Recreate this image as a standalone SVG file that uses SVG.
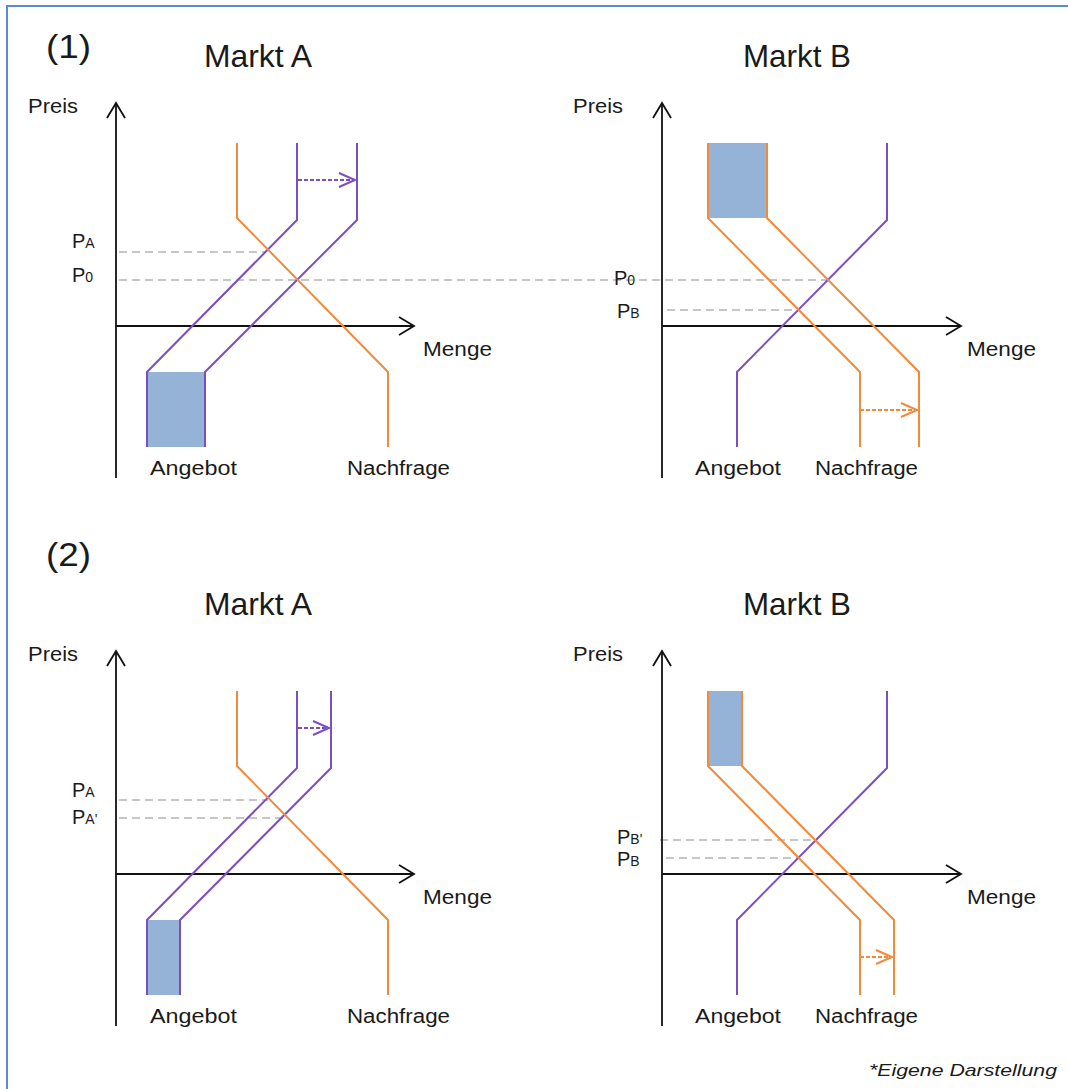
<svg xmlns="http://www.w3.org/2000/svg" width="1068" height="1089" viewBox="0 0 1068 1089">
  <style>
    text { font-family: "Liberation Sans", Arial, sans-serif; fill: #1a1a1a; }
    .title { font-size: 32px; }
    .num { font-size: 34px; }
    .lbl { font-size: 20px; }
    .p { font-size: 20px; }
    .sub { font-size: 14px; }
    .axis { stroke: #111; stroke-width: 1.8; fill: none; }
    .sup { stroke: #7d4ec2; stroke-width: 2; fill: none; }
    .dem { stroke: #f28a3c; stroke-width: 2; fill: none; }
    .fill { fill: #95b3d7; stroke: none; }
    .guide { stroke: #b4b4b4; stroke-width: 1.5; stroke-dasharray: 8 5; fill: none; }
    .shiftS { stroke: #7d4ec2; stroke-width: 2; stroke-dasharray: 4 2; fill: none; }
    .shiftD { stroke: #f28a3c; stroke-width: 2; stroke-dasharray: 4 2; fill: none; }
  </style>
  <defs>
    <marker id="axisHead" markerUnits="userSpaceOnUse" markerWidth="20" markerHeight="20" viewBox="-16 -10 18 20" refX="0" refY="0" orient="auto">
      <path d="M-15,-9 L0,0 L-15,9" fill="none" stroke="#111" stroke-width="1.8"/>
    </marker>
    <marker id="headS" markerUnits="userSpaceOnUse" markerWidth="20" markerHeight="20" viewBox="-16 -10 18 20" refX="0" refY="0" orient="auto">
      <path d="M-16,-7 L0,0 L-16,7" fill="none" stroke="#7d4ec2" stroke-width="2"/>
    </marker>
    <marker id="headD" markerUnits="userSpaceOnUse" markerWidth="20" markerHeight="20" viewBox="-16 -10 18 20" refX="0" refY="0" orient="auto">
      <path d="M-16,-7 L0,0 L-16,7" fill="none" stroke="#f28a3c" stroke-width="2"/>
    </marker>
  </defs>

  <rect width="1068" height="1089" fill="#ffffff"/>
  <!-- frame -->
  <path d="M7,1089 L7,6 L1068,6" fill="none" stroke="#5b8bd0" stroke-width="2"/>

  <text class="num" x="46" y="58" textLength="45" lengthAdjust="spacingAndGlyphs">(1)</text>
  <text class="num" x="46" y="566" textLength="45" lengthAdjust="spacingAndGlyphs">(2)</text>

  <!-- (1) Markt A -->
  <g id="p1-markt-a">
    <text class="title" x="204" y="67" textLength="108" lengthAdjust="spacingAndGlyphs">Markt A</text>
    <rect class="fill" x="147" y="372" width="58" height="75"/>
    <path class="guide" d="M119,252 H266"/>
    <path class="guide" d="M119,280 H830"/>
    <path class="axis" d="M116,478 V103" marker-end="url(#axisHead)"/>
    <path class="axis" d="M116,326 H414" marker-end="url(#axisHead)"/>
    <path class="sup" d="M147,447 V372 L297,220 V143"/>
    <path class="sup" d="M205,447 V372 L357,220 V143"/>
    <path class="dem" d="M237,143 V218 L388,372 V447"/>
    <path class="shiftS" d="M298,180 H355" marker-end="url(#headS)"/>
    <text class="lbl" x="28" y="113" textLength="50" lengthAdjust="spacingAndGlyphs">Preis</text>
    <text class="lbl" x="423" y="356" textLength="69" lengthAdjust="spacingAndGlyphs">Menge</text>
    <text class="lbl" x="150" y="475" textLength="87" lengthAdjust="spacingAndGlyphs">Angebot</text>
    <text class="lbl" x="347" y="475" textLength="103" lengthAdjust="spacingAndGlyphs">Nachfrage</text>
    <text class="p" x="72" y="248">P<tspan class="sub">A</tspan></text>
    <text class="p" x="72" y="282">P<tspan class="sub">0</tspan></text>
  </g>

  <!-- (1) Markt B -->
  <g id="p1-markt-b">
    <text class="title" x="743" y="67" textLength="108" lengthAdjust="spacingAndGlyphs">Markt B</text>
    <rect class="fill" x="708" y="143" width="59" height="75"/>
    <path class="guide" d="M667,310 H799"/>
    <path class="axis" d="M662,478 V103" marker-end="url(#axisHead)"/>
    <path class="axis" d="M662,326 H961" marker-end="url(#axisHead)"/>
    <path class="sup" d="M737,447 V372 L887,220 V143"/>
    <path class="dem" d="M708,143 V218 L860,372 V447"/>
    <path class="dem" d="M767,143 V218 L919,372 V447"/>
    <path class="shiftD" d="M860,410 H917" marker-end="url(#headD)"/>
    <text class="lbl" x="573" y="113" textLength="50" lengthAdjust="spacingAndGlyphs">Preis</text>
    <text class="lbl" x="967" y="356" textLength="69" lengthAdjust="spacingAndGlyphs">Menge</text>
    <text class="lbl" x="695" y="475" textLength="86" lengthAdjust="spacingAndGlyphs">Angebot</text>
    <text class="lbl" x="815" y="475" textLength="103" lengthAdjust="spacingAndGlyphs">Nachfrage</text>
    <text class="p" x="614" y="285">P<tspan class="sub">0</tspan></text>
    <text class="p" x="617" y="318">P<tspan class="sub">B</tspan></text>
  </g>

  <!-- (2) Markt A -->
  <g id="p2-markt-a">
    <text class="title" x="204" y="615" textLength="108" lengthAdjust="spacingAndGlyphs">Markt A</text>
    <rect class="fill" x="147" y="920" width="33" height="75"/>
    <path class="guide" d="M119,800 H268"/>
    <path class="guide" d="M119,818 H286"/>
    <path class="axis" d="M116,1026 V651" marker-end="url(#axisHead)"/>
    <path class="axis" d="M116,874 H414" marker-end="url(#axisHead)"/>
    <path class="sup" d="M147,995 V920 L297,768 V691"/>
    <path class="sup" d="M180,995 V920 L331,768 V691"/>
    <path class="dem" d="M237,691 V766 L388,920 V995"/>
    <path class="shiftS" d="M298,728 H329" marker-end="url(#headS)"/>
    <text class="lbl" x="28" y="661" textLength="50" lengthAdjust="spacingAndGlyphs">Preis</text>
    <text class="lbl" x="423" y="904" textLength="69" lengthAdjust="spacingAndGlyphs">Menge</text>
    <text class="lbl" x="150" y="1023" textLength="87" lengthAdjust="spacingAndGlyphs">Angebot</text>
    <text class="lbl" x="347" y="1023" textLength="103" lengthAdjust="spacingAndGlyphs">Nachfrage</text>
    <text class="p" x="72" y="797">P<tspan class="sub">A</tspan></text>
    <text class="p" x="72" y="824">P<tspan class="sub">A'</tspan></text>
  </g>

  <!-- (2) Markt B -->
  <g id="p2-markt-b">
    <text class="title" x="743" y="615" textLength="108" lengthAdjust="spacingAndGlyphs">Markt B</text>
    <rect class="fill" x="708" y="691" width="34" height="75"/>
    <path class="guide" d="M660,840 H814"/>
    <path class="guide" d="M666,858 H799"/>
    <path class="axis" d="M662,1026 V651" marker-end="url(#axisHead)"/>
    <path class="axis" d="M662,874 H961" marker-end="url(#axisHead)"/>
    <path class="sup" d="M737,995 V920 L887,768 V691"/>
    <path class="dem" d="M708,691 V766 L860,920 V995"/>
    <path class="dem" d="M742,691 V766 L894,920 V995"/>
    <path class="shiftD" d="M860,957 H892" marker-end="url(#headD)"/>
    <text class="lbl" x="573" y="661" textLength="50" lengthAdjust="spacingAndGlyphs">Preis</text>
    <text class="lbl" x="967" y="904" textLength="69" lengthAdjust="spacingAndGlyphs">Menge</text>
    <text class="lbl" x="695" y="1023" textLength="86" lengthAdjust="spacingAndGlyphs">Angebot</text>
    <text class="lbl" x="815" y="1023" textLength="103" lengthAdjust="spacingAndGlyphs">Nachfrage</text>
    <text class="p" x="617" y="844">P<tspan class="sub">B'</tspan></text>
    <text class="p" x="617" y="866">P<tspan class="sub">B</tspan></text>
  </g>

  <text x="869" y="1076" font-size="17" font-style="italic" textLength="188" lengthAdjust="spacingAndGlyphs">*Eigene Darstellung</text>
</svg>
